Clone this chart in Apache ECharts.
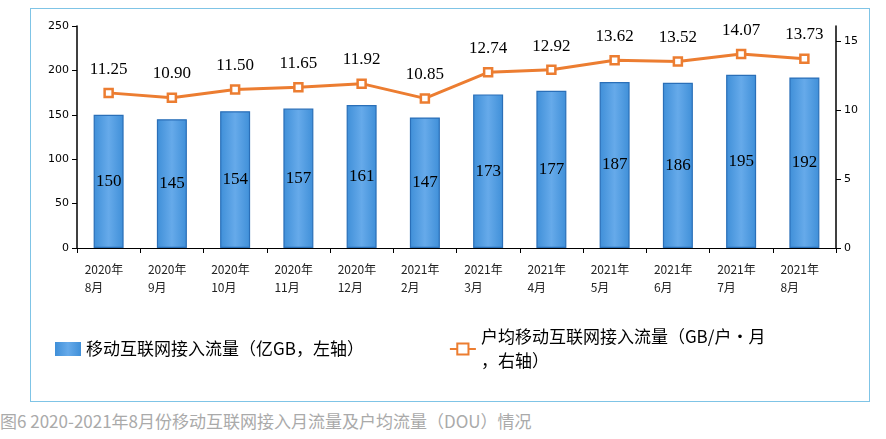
<!DOCTYPE html>
<html><head><meta charset="utf-8">
<script src="https://cdn.jsdelivr.net/npm/echarts@6/dist/echarts.min.js"></script>
<style>
body{margin:0;background:#fff}
#box{position:absolute;left:30px;top:8px;width:838px;height:392px;border:1px solid #7fc4e6}
#chart{position:absolute;left:0;top:0;width:886px;height:405px}
#cap{position:absolute;left:0;top:408px;font:17px "Noto Sans CJK SC";color:#aaa}
</style></head><body>
<div id="box"></div>
<div id="chart"></div>
<div id="cap">图6 2020-2021年8月份移动互联网接入月流量及户均流量（DOU）情况</div>
<script>
const categories=['2020年\n8月','2020年\n9月','2020年\n10月','2020年\n11月','2020年\n12月','2021年\n2月','2021年\n3月','2021年\n4月','2021年\n5月','2021年\n6月','2021年\n7月','2021年\n8月'];
const traffic=[150,145,154,157,161,147,173,177,187,186,195,192];
const dou=[11.25,10.90,11.50,11.65,11.92,10.85,12.74,12.92,13.62,13.52,14.07,13.73];

let myChart=echarts.init(document.getElementById('chart'));
const axisCommon={axisLine:{show:true,lineStyle:{color:'#000',width:1.5}},axisTick:{show:true,length:5,inside:false},
  splitLine:{show:false},axisLabel:{color:'#000',fontSize:11,fontFamily:'DejaVu Sans'}};
myChart.setOption({
  animation:false,
  grid:{left:77,right:50,top:26,bottom:157},
  legend:{top:320,left:50,width:800,itemGap:85,itemWidth:26,itemHeight:14,
    textStyle:{fontSize:17,color:'#000',fontFamily:'Noto Sans CJK SC',lineHeight:24},
    data:[{name:'移动互联网接入流量（亿GB，左轴）',icon:'rect',itemStyle:{borderWidth:0}},{name:'户均移动互联网接入流量（GB/户·月\n，右轴）'}]},
  xAxis:{type:'category',data:categories,axisLine:{lineStyle:{color:'#000'}},
    axisTick:{show:true,length:5},axisLabel:{color:'#222',fontSize:12,fontFamily:'Noto Sans CJK SC',align:'left',margin:12,
    padding:[0,0,0,-24],lineHeight:18}},
  yAxis:[Object.assign({type:'value',min:0,max:250,interval:50},axisCommon),
         Object.assign({type:'value',min:0,max:16.1,interval:5,position:'right',
           axisLabel:{color:'#000',fontSize:11,fontFamily:'DejaVu Sans',showMaxLabel:false}},
           {axisLine:axisCommon.axisLine,axisTick:axisCommon.axisTick,splitLine:{show:false}})],
  series:[
    {name:'移动互联网接入流量（亿GB，左轴）',type:'bar',data:traffic,barWidth:30,
     itemStyle:{color:new echarts.graphic.LinearGradient(0,0,1,0,[{offset:0,color:'#3f8fd8'},{offset:0.5,color:'#66aaea'},{offset:1,color:'#3f8fd8'}]),borderColor:'#2a6fb8',borderWidth:1.2},
     label:{show:true,position:'inside',color:'#000',fontSize:17,fontFamily:'Liberation Serif'}},
    {name:'户均移动互联网接入流量（GB/户·月\n，右轴）',type:'line',yAxisIndex:1,data:dou,
     symbol:'rect',symbolSize:8,
     lineStyle:{color:'#ec7d31',width:3},itemStyle:{color:'#fff',borderColor:'#ec7d31',borderWidth:2.5},
     label:{show:true,position:'top',distance:10,color:'#000',fontSize:17,fontFamily:'Liberation Serif',
       formatter:p=>p.value.toFixed(2)}}
  ]
});
</script></body></html>
